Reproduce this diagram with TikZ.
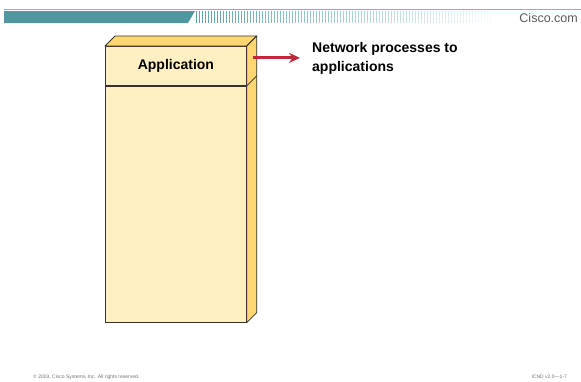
\documentclass[tikz,border=0pt]{standalone}
\usepackage{fontspec}
\setmainfont{Liberation Sans}
\usepackage{tikz}
\usetikzlibrary{arrows.meta, positioning}
\definecolor{cream}{RGB}{255,240,196}
\definecolor{gold}{RGB}{255,214,112}
\definecolor{ciscoteal}{RGB}{80,152,160}
\definecolor{arrowred}{RGB}{190,40,60}
\tikzstyle{layer} = [rectangle, minimum width=141pt, inner sep=0pt, draw=black!80, line width=0.8pt, fill=cream, font=\bfseries\fontsize{14}{16}\selectfont]
\tikzstyle{face} = [draw=black!80, line width=0.8pt, fill=gold, line join=round]
\tikzstyle{arrow} = [line width=3pt, arrowred, -{Stealth[length=11pt, width=10pt]}]
\tikzstyle{note} = [inner sep=0pt, align=left, font=\bfseries\fontsize{14}{19}\selectfont]
\tikzstyle{footer} = [inner sep=0pt, text=black!55, font=\fontsize{5}{6}\selectfont]

\begin{document}
\begin{tikzpicture}[x=1pt, y=-1pt]
\useasboundingbox (0,0) rectangle (581,381);
% Barra in alto
\draw[ciscoteal!70, line width=1.5pt] (4,9.5) -- (581,9.5);
\fill[ciscoteal] (4,11) -- (195,11) -- (188,23) -- (4,23) -- cycle;
\foreach \x [evaluate=\x as \op using {0.9-0.85*(\x-196)/294}] in {196,199,...,490}
  \draw[ciscoteal, line width=1pt, opacity=\op] (\x,11) -- (\x,23);
\node (cisco) [anchor=east, inner sep=0pt, text=black!65, font=\fontsize{12.5}{14}\selectfont] at (578,18) {Cisco.com};

% Nodi principali
\node (application) [layer, minimum height=39pt, anchor=north west] at (105,46) {Application};
\node (lower) [layer, minimum height=236pt, below=0pt of application] {};
\node (netproc) [note, anchor=north west] at (312,42.5) {Network processes to\\applications};

% Facce laterali
\draw[face] (application.north west) -- ++(10,-10) -- ([shift={(10,-10)}]application.north east) -- (application.north east) -- cycle;
\draw[face] (application.north east) -- ++(10,-10) -- ([shift={(10,-10)}]lower.south east) -- (lower.south east) -- cycle;
\draw[black!80, line width=0.8pt] (application.south east) -- ++(10,-10);

% Freccia
\coordinate (arrowstart) at ([shift={(6,-8)}]application.east);
\draw [arrow] (arrowstart) -- ([xshift=-12pt]arrowstart -| netproc.west);

% Pie di pagina
\node (copyright) [footer, anchor=west] at (33,377) {© 2003, Cisco Systems, Inc. All rights reserved.};
\node (slideno) [footer, anchor=east] at (567,377) {ICND v2.0—1-7};
\end{tikzpicture}
\end{document}
